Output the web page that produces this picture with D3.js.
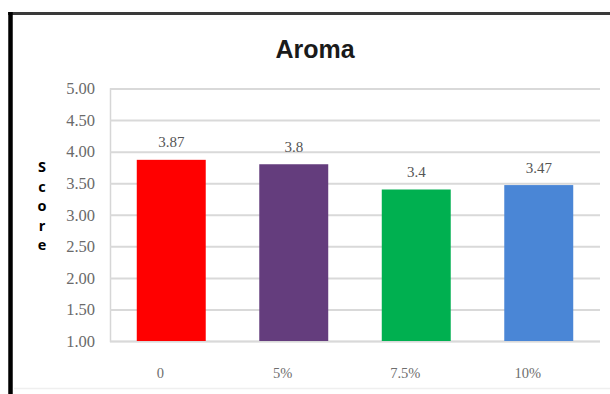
<!DOCTYPE html>
<html>
<head>
<meta charset="utf-8">
<script src="https://cdn.jsdelivr.net/npm/d3@7"></script>
<style>
  html, body { margin: 0; padding: 0; background: #fff; }
  svg { display: block; }
</style>
</head>
<body>
<script>
// Aroma scores by level of addition
const categories = ["0", "5%", "7.5%", "10%"];
const scores = [3.87, 3.8, 3.4, 3.47];
const barColors = ["#ff0000", "#643d7d", "#00b050", "#4a86d6"];
const yTicks = [1.0, 1.5, 2.0, 2.5, 3.0, 3.5, 4.0, 4.5, 5.0];
const yLetters = ["S", "c", "o", "r", "e"];

const W = 610, H = 394;
const plot = { left: 110, right: 600, top: 88.5, bottom: 341 };

const svg = d3.select("body").append("svg")
  .attr("width", W).attr("height", H);

svg.append("rect").attr("width", W).attr("height", H).attr("fill", "#fff");

// frame: dark top rule and heavy left rule, faint bottom edge
svg.append("line").attr("x1", 8).attr("x2", W).attr("y1", 13.5).attr("y2", 13.5)
  .attr("stroke", "#3a3a3a").attr("stroke-width", 3);
svg.append("line").attr("x1", 10.5).attr("x2", 10.5).attr("y1", 12).attr("y2", H)
  .attr("stroke", "#000").attr("stroke-width", 4.5);
svg.append("line").attr("x1", 14).attr("x2", W).attr("y1", 388.5).attr("y2", 388.5)
  .attr("stroke", "#efefef").attr("stroke-width", 1.5);

const x = d3.scaleBand().domain(categories)
  .range([plot.left, plot.right]).paddingInner(0.437).paddingOuter(0.2185);
const y = d3.scaleLinear().domain([1, 5]).range([plot.bottom, plot.top]);

// gridlines and value axis
const yAxis = d3.axisLeft(y).tickValues(yTicks)
  .tickSize(-(plot.right - plot.left)).tickPadding(15)
  .tickFormat(d3.format(".2f"));
const gy = svg.append("g").attr("transform", `translate(${plot.left},0)`).call(yAxis);
gy.select(".domain").attr("stroke", "#d6d6d6").attr("stroke-width", 1.5);
gy.selectAll(".tick line").attr("stroke", "#d9d9d9").attr("stroke-width", 2);
gy.selectAll(".tick text")
  .attr("fill", "#6a6a6a")
  .attr("font-family", "'Liberation Serif', 'DejaVu Serif', serif")
  .attr("font-size", 16.5);

// bars
svg.append("g").selectAll("rect").data(scores).join("rect")
  .attr("x", (d, i) => x(categories[i]))
  .attr("width", x.bandwidth())
  .attr("y", d => y(d))
  .attr("height", d => y(1) - y(d))
  .attr("fill", (d, i) => barColors[i]);

// value labels
svg.append("g").selectAll("text").data(scores).join("text")
  .attr("x", (d, i) => x(categories[i]) + x.bandwidth() / 2)
  .attr("y", d => y(d) - 12.5)
  .attr("text-anchor", "middle")
  .attr("fill", "#555")
  .attr("font-family", "'Liberation Serif', 'DejaVu Serif', serif")
  .attr("font-size", 15)
  .text(d => String(d));

// category labels
const xAxis = d3.axisBottom(x).tickSize(0).tickPadding(0);
const gx = svg.append("g").attr("transform", `translate(0,${plot.bottom})`).call(xAxis);
gx.select(".domain").remove();
gx.selectAll(".tick text")
  .attr("dy", 0).attr("y", 37).attr("dx", -11)
  .attr("fill", "#6e6e6e")
  .attr("font-family", "'Liberation Serif', 'DejaVu Serif', serif")
  .attr("font-size", 14.5);

// title
svg.append("text")
  .attr("x", 315).attr("y", 58)
  .attr("text-anchor", "middle")
  .attr("font-family", "'Liberation Sans', Arial, sans-serif")
  .attr("font-weight", "bold")
  .attr("font-size", 25)
  .attr("fill", "#1a1a1a")
  .text("Aroma");

// stacked vertical axis title
svg.append("g").selectAll("text").data(yLetters).join("text")
  .attr("x", 42)
  .attr("y", (d, i) => 172 + i * 19.5)
  .attr("text-anchor", "middle")
  .attr("font-family", "'Open Sans', 'Liberation Sans', sans-serif")
  .attr("font-weight", "bold")
  .attr("font-size", 14)
  .attr("fill", "#000")
  .attr("font-size", 14.5)
  .text(d => d);
</script>
</body>
</html>
